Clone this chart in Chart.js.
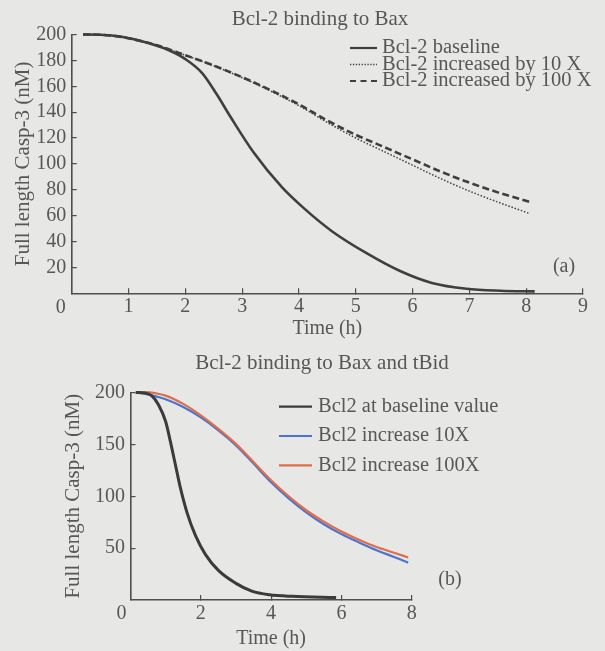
<!DOCTYPE html>
<html>
<head>
<meta charset="utf-8">
<title>Full length Casp-3 time courses</title>
<script src="https://cdn.jsdelivr.net/npm/chart.js@4.4.1/dist/chart.umd.min.js"></script>
<style>
  html, body { margin: 0; padding: 0; background: #e7e7e6; }
  #wrap { position: relative; width: 605px; height: 651px; overflow: hidden; }
  canvas { position: absolute; left: 0; }
  #chartA { top: 0; }
  #chartB { top: 345px; }
</style>
</head>
<body>
<div id="wrap">
  <canvas id="chartA" width="605" height="345"></canvas>
  <canvas id="chartB" width="605" height="306"></canvas>
</div>
<script>
// ---------- Panel (a): Bcl-2 binding to Bax ----------
const titleA = 'Bcl-2 binding to Bax';
const seriesLabelsA = ['Bcl-2 baseline', 'Bcl-2 increased by 10 X', 'Bcl-2 increased by 100 X'];
const timeA_baseline = [0.2, 0.5, 0.9, 1.3, 1.7, 2.0, 2.3, 2.55, 2.8, 3.2, 3.7, 4.08, 4.58, 5.19, 5.79, 6.34, 6.95, 7.55, 8.15];
const casp3A_baseline = [200, 199.8, 198, 194, 188, 181, 170, 154, 136, 109, 82, 66, 48, 31, 17, 8, 3.5, 2, 1.5];
const timeA_raised = [0.2, 0.5, 0.9, 1.3, 1.5, 2.0, 2.5, 3.0, 3.5, 4.0, 4.5, 5.0, 5.5, 6.0, 6.5, 7.0, 7.5, 8.07];
const casp3A_10x = [200, 199.8, 198, 194, 191.7, 184, 175.8, 166.6, 156.3, 145, 132, 120, 109.5, 99, 88.5, 79, 70.5, 61.5];
const casp3A_100x = [200, 199.8, 198, 194, 191.7, 184, 176, 167, 157, 146, 133.5, 122.5, 113, 103.5, 94, 85.5, 78, 70.5];
const xTicksA = [1, 2, 3, 4, 5, 6, 7, 8, 9];
const yTicksA = [20, 40, 60, 80, 100, 120, 140, 160, 180, 200];

// ---------- Panel (b): Bcl-2 binding to Bax and tBid ----------
const titleB = 'Bcl-2 binding to Bax and tBid';
const seriesLabelsB = ['Bcl2 at baseline value', 'Bcl2 increase 10X', 'Bcl2 increase 100X'];
const timeB_baseline = [0.15, 0.4, 0.6, 0.8, 1.0, 1.14, 1.28, 1.42, 1.61, 1.85, 2.13, 2.5, 3.0, 3.45, 3.95, 4.6, 5.85];
const casp3B_baseline = [200, 199.5, 197, 188, 172, 152, 130, 108, 84, 62, 44, 28.5, 16, 8.5, 5, 3.5, 2.5];
const timeB_raised = [0.15, 0.45, 0.75, 1.0, 1.5, 2.0, 2.5, 3.0, 3.5, 4.0, 4.5, 5.0, 5.5, 6.0, 6.5, 7.0, 7.5, 7.9];
const casp3B_10x = [200, 198.5, 196, 193.5, 186, 176, 163.5, 149, 131.5, 113.5, 98, 84.5, 73, 63.5, 55.5, 48, 41.5, 36];
const casp3B_100x = [200, 200.5, 199, 197, 189, 178, 165, 150.5, 133, 115.5, 100, 86.5, 75.5, 66, 58, 51, 45.5, 41];
const xTicksB = [2, 4, 6, 8];
const yTicksB = [50, 100, 150, 200];

const yAxisTitle = 'Full length Casp-3 (nM)';
const xAxisTitle = 'Time (h)';

// ---------- shared styling ----------
const FONT = "'Liberation Serif', 'Times New Roman', serif";
const TEXT = '#575757';
const AXIS = '#4e4e4e';
const DARK = '#3f3f3f';

const toPoints = (xs, ys) => xs.map((x, i) => ({ x, y: ys[i] }));

// Draws the panel title, the in-plot legend, the panel letter and the origin label.
const panelDecor = {
  id: 'panelDecor',
  afterDraw(chart, args, o) {
    const ctx = chart.ctx;
    ctx.save();
    ctx.fillStyle = TEXT;
    ctx.textBaseline = 'middle';

    ctx.textAlign = 'center';
    ctx.font = `${o.titleSize}px ${FONT}`;
    ctx.fillText(o.title, o.titleX, o.titleY);

    ctx.font = `${o.textSize}px ${FONT}`;
    ctx.fillText(o.letter, o.letterX, o.letterY);

    const x0 = chart.scales.x.getPixelForValue(0);
    ctx.fillText('0', x0 + o.zeroDX, chart.chartArea.bottom + o.zeroDY);

    ctx.textAlign = 'left';
    ctx.font = `${o.legendSize}px ${FONT}`;
    chart.data.datasets.forEach((ds, i) => {
      const y = o.legendY + i * o.legendGap;
      ctx.save();
      ctx.strokeStyle = ds.borderColor;
      ctx.lineWidth = o.sampleWidth[i];
      ctx.setLineDash(o.sampleDash[i]);
      ctx.beginPath();
      ctx.moveTo(o.legendX, y);
      ctx.lineTo(o.legendX + o.sampleLen, y);
      ctx.stroke();
      ctx.restore();
      ctx.fillText(ds.label, o.legendX + o.sampleLen + o.textGap, y);
    });
    ctx.restore();
  }
};

function axisOptions(cfg) {
  return {
    x: {
      type: 'linear', min: cfg.xMin, max: cfg.xMax,
      afterBuildTicks: s => { s.ticks = cfg.xTicks.map(v => ({ value: v })); },
      afterFit: s => { s.height = cfg.xHeight; },
      grid: { drawOnChartArea: false, drawTicks: true, tickLength: -5, color: AXIS, lineWidth: 1.2 },
      border: { display: true, color: AXIS, width: 1.6 },
      ticks: { color: TEXT, font: { family: FONT, size: 20 }, padding: cfg.xTickPad, maxRotation: 0 },
      title: { display: true, text: xAxisTitle, color: TEXT, font: { family: FONT, size: 20 },
               padding: { top: 0, bottom: cfg.xTitlePad } }
    },
    y: {
      type: 'linear', min: 0, max: 200,
      afterBuildTicks: s => { s.ticks = cfg.yTicks.map(v => ({ value: v })); },
      afterFit: s => { s.width = cfg.yWidth; },
      grid: { drawOnChartArea: false, drawTicks: true, tickLength: -5, color: AXIS, lineWidth: 1.2 },
      border: { display: true, color: AXIS, width: 1.6 },
      ticks: { color: TEXT, font: { family: FONT, size: 20 }, padding: 10.5 },
      title: { display: true, text: yAxisTitle, color: TEXT, font: { family: FONT, size: 21 },
               padding: { top: cfg.yTitlePad, bottom: 0 } }
    }
  };
}

const common = {
  type: 'line',
  plugins: [panelDecor],
};

const lineDefaults = { pointRadius: 0, fill: false, cubicInterpolationMode: 'monotone', clip: false };

new Chart(document.getElementById('chartA'), {
  ...common,
  data: {
    datasets: [
      { ...lineDefaults, label: seriesLabelsA[0], data: toPoints(timeA_baseline, casp3A_baseline),
        borderColor: DARK, borderWidth: 2.6, order: 0 },
      { ...lineDefaults, label: seriesLabelsA[1], data: toPoints(timeA_raised, casp3A_10x),
        borderColor: DARK, borderWidth: 1.5, borderDash: [1.5, 1.8], order: 2 },
      { ...lineDefaults, label: seriesLabelsA[2], data: toPoints(timeA_raised, casp3A_100x),
        borderColor: DARK, borderWidth: 2.6, borderDash: [7, 3.5], order: 1 }
    ]
  },
  options: {
    responsive: false, animation: false, devicePixelRatio: 1,
    events: [],
    layout: { padding: { left: 0, top: 34.5, right: 22, bottom: 0 } },
    scales: axisOptions({ xMin: 0, xMax: 9, xTicks: xTicksA, yTicks: yTicksA,
                          xHeight: 51.7, yWidth: 71.7, xTickPad: 6.5, xTitlePad: 4, yTitlePad: 10.4 }),
    plugins: {
      legend: { display: false }, tooltip: { enabled: false },
      panelDecor: {
        title: titleA, titleSize: 21, titleX: 320, titleY: 19,
        letter: '(a)', letterX: 564, letterY: 267, textSize: 20,
        zeroDX: -11, zeroDY: 14,
        legendSize: 20.5, legendX: 350, legendY: 48, legendGap: 16.5,
        sampleLen: 27, textGap: 5,
        sampleWidth: [2.2, 1.4, 2.2], sampleDash: [[], [1.3, 1.6], [6, 4.5]]
      }
    }
  }
});

new Chart(document.getElementById('chartB'), {
  ...common,
  data: {
    datasets: [
      { ...lineDefaults, label: seriesLabelsB[0], data: toPoints(timeB_baseline, casp3B_baseline),
        borderColor: '#3b3b3b', borderWidth: 3, order: 0 },
      { ...lineDefaults, label: seriesLabelsB[1], data: toPoints(timeB_raised, casp3B_10x),
        borderColor: '#4a74cf', borderWidth: 2.2, order: 2 },
      { ...lineDefaults, label: seriesLabelsB[2], data: toPoints(timeB_raised, casp3B_100x),
        borderColor: '#df6d4a', borderWidth: 2.2, order: 1 }
    ]
  },
  options: {
    responsive: false, animation: false, devicePixelRatio: 1,
    events: [],
    layout: { padding: { left: 0, top: 47.5, right: 193.3, bottom: 0 } },
    scales: axisOptions({ xMin: 0, xMax: 8, xTicks: xTicksB, yTicks: yTicksB,
                          xHeight: 51, yWidth: 130.5, xTickPad: 7, xTitlePad: 0, yTitlePad: 61 }),
    plugins: {
      legend: { display: false }, tooltip: { enabled: false },
      panelDecor: {
        title: titleB, titleSize: 21, titleX: 322, titleY: 18,
        letter: '(b)', letterX: 450, letterY: 235, textSize: 20,
        zeroDX: -9, zeroDY: 14,
        legendSize: 20.5, legendX: 279, legendY: 61.7, legendGap: 29.3,
        sampleLen: 33, textGap: 6,
        sampleWidth: [2.2, 2.2, 2.2], sampleDash: [[], [], []]
      }
    }
  }
});
</script>
</body>
</html>
